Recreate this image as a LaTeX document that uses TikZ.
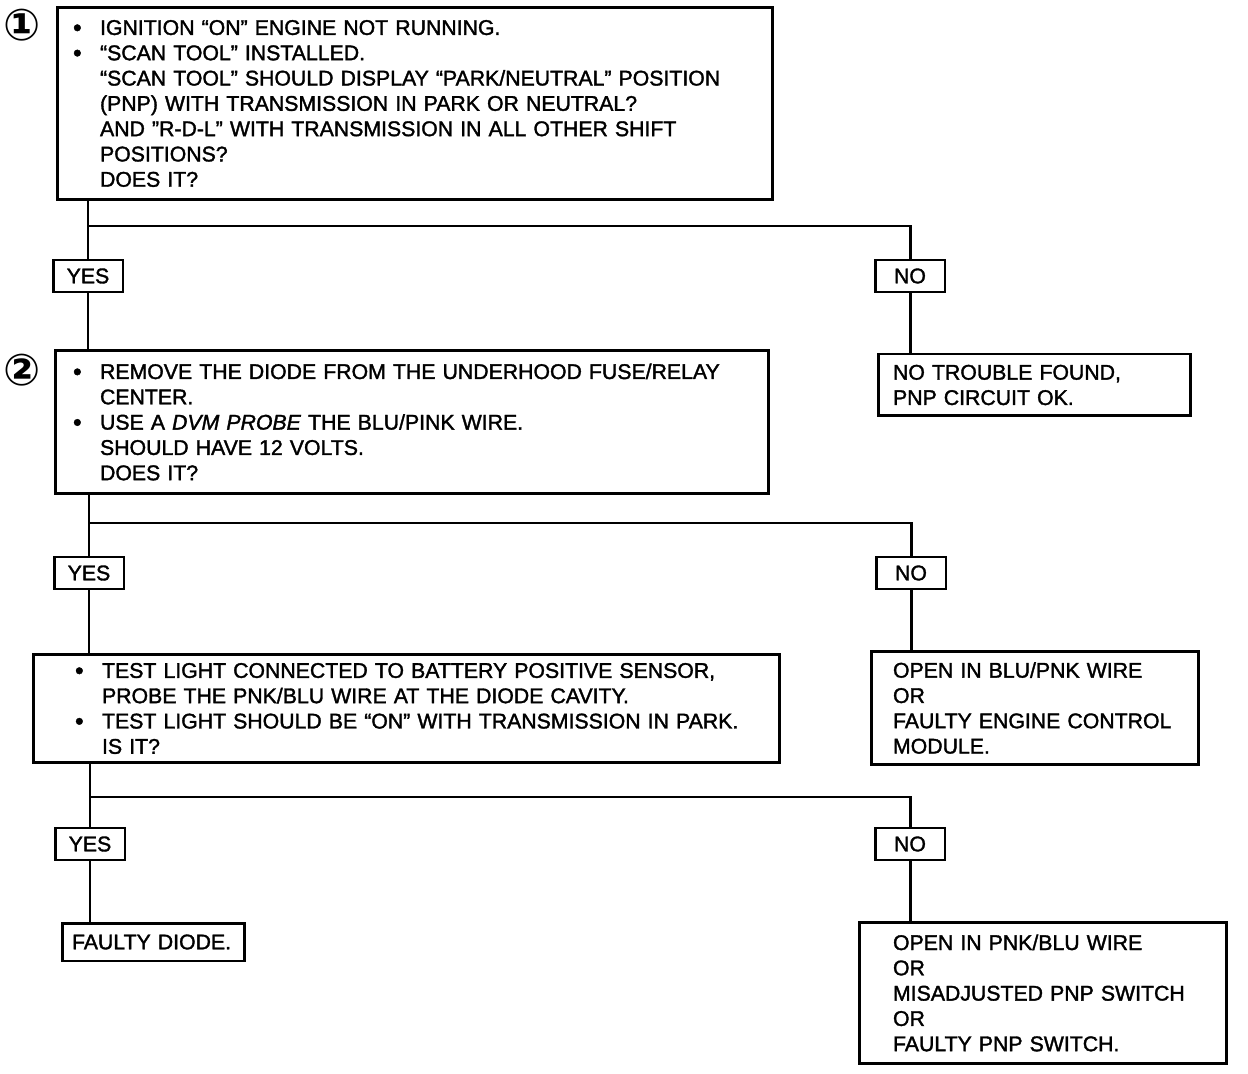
\documentclass[tikz,border=0pt]{standalone}
\usepackage{fontspec}
\setmainfont{Liberation Sans}[FakeBold=1.6]
\newfontfamily\circfont{DejaVu Sans Bold}
\usetikzlibrary{positioning}

\newcommand\bul{\makebox[0.54cm][l]{\smash{\raisebox{-0.6pt}{\fontsize{14}{14}\selectfont•}}}}
\newcommand\ind{\hspace*{0.54cm}}

\begin{document}
\begin{tikzpicture}[
  x=0.02cm,y=-0.02cm,
  qbox/.style={rectangle,draw=black,line width=1.7pt,align=left,
               font=\fontsize{12.1}{14.4}\selectfont,anchor=center},
  yn/.style={rectangle,draw=black,line width=1.7pt,minimum width=1.4cm,
             minimum height=0.64cm,inner sep=0pt,font=\fontsize{12.1}{14.4}\selectfont},
  endbox/.style={qbox},
  wire/.style={line width=1.7pt},
  stepno/.style={font=\circfont\fontsize{25}{25}\selectfont,inner sep=0pt}
]
\useasboundingbox (0,0) rectangle (1248,1074);

% step 1
\node[stepno] (c1) at (22,25) {①};
\node[qbox,minimum width=14.32cm,minimum height=3.86cm,text width=13.68cm,inner xsep=0.32cm]
  (b1) at (415,103.5)
  {\bul IGNITION “ON” ENGINE NOT RUNNING.\\
   \bul “SCAN TOOL” INSTALLED.\\
   \ind “SCAN TOOL” SHOULD DISPLAY “PARK/NEUTRAL” POSITION\\
   \ind (PNP) WITH TRANSMISSION IN PARK OR NEUTRAL?\\
   \ind AND ”R-D-L” WITH TRANSMISSION IN ALL OTHER SHIFT\\
   \ind POSITIONS?\\
   \ind DOES IT?};
\node[yn] (yes1) at (88,276) {YES};
\node[yn] (no1)  at (910,276) {NO};
\node[endbox,minimum width=6.26cm,minimum height=1.24cm,text width=5.66cm,inner xsep=0.3cm]
  (ok) at (1034.5,385)
  {NO TROUBLE FOUND,\\PNP CIRCUIT OK.};
\coordinate (j1) at (0,226);
\draw[wire] (yes1.north |- b1.south) -- (yes1.north);
\draw[wire] (yes1.north |- j1) -| (no1.north);
\draw[wire] (no1.south) -- (no1.south |- ok.north);

% step 2
\node[stepno] (c2) at (22,370) {②};
\node[qbox,minimum width=14.28cm,minimum height=2.88cm,text width=13.56cm,inner xsep=0.36cm]
  (b2) at (412,422)
  {\bul REMOVE THE DIODE FROM THE UNDERHOOD FUSE/RELAY\\
   \ind CENTER.\\
   \bul USE A \textit{DVM PROBE} THE BLU/PINK WIRE.\\
   \ind SHOULD HAVE 12 VOLTS.\\
   \ind DOES IT?};
\draw[wire] (yes1.south) -- (yes1.south |- b2.north);
\node[yn] (yes2) at (89,573) {YES};
\node[yn] (no2)  at (911,573) {NO};
\coordinate (j2) at (0,523);
\draw[wire] (yes2.north |- b2.south) -- (yes2.north);
\draw[wire] (yes2.north |- j2) -| (no2.north);

% step 3
\node[qbox,minimum width=14.94cm,minimum height=2.18cm,text width=14.34cm,inner xsep=0.3cm]
  (b3) at (406.5,708.5)
  {\ind\bul TEST LIGHT CONNECTED TO BATTERY POSITIVE SENSOR,\\
   \ind\ind PROBE THE PNK/BLU WIRE AT THE DIODE CAVITY.\\
   \ind\bul TEST LIGHT SHOULD BE “ON” WITH TRANSMISSION IN PARK.\\
   \ind\ind IS IT?};
\node[endbox,minimum width=6.56cm,minimum height=2.28cm,text width=5.68cm,inner xsep=0.44cm]
  (ecm) at (1035,708)
  {OPEN IN BLU/PNK WIRE\\OR\\FAULTY ENGINE CONTROL\\MODULE.};
\draw[wire] (yes2.south) -- (yes2.south |- b3.north);
\draw[wire] (no2.south) -- (no2.south |- ecm.north);
\node[yn] (yes3) at (90,844) {YES};
\node[yn] (no3)  at (910,844) {NO};
\coordinate (j3) at (0,797);
\draw[wire] (yes3.north |- b3.south) -- (yes3.north);
\draw[wire] (yes3.north |- j3) -| (no3.north);

% results
\node[endbox,minimum width=3.66cm,minimum height=0.76cm,text width=3.26cm,inner xsep=0.2cm]
  (diode) at (153.5,942) {FAULTY DIODE.};
\node[endbox,minimum width=7.36cm,minimum height=2.84cm,text width=6.0cm,inner xsep=0.68cm]
  (pnp) at (1043,993)
  {OPEN IN PNK/BLU WIRE\\OR\\MISADJUSTED PNP SWITCH\\OR\\FAULTY PNP SWITCH.};
\draw[wire] (yes3.south) -- (yes3.south |- diode.north);
\draw[wire] (no3.south) -- (no3.south |- pnp.north);
\end{tikzpicture}
\end{document}
